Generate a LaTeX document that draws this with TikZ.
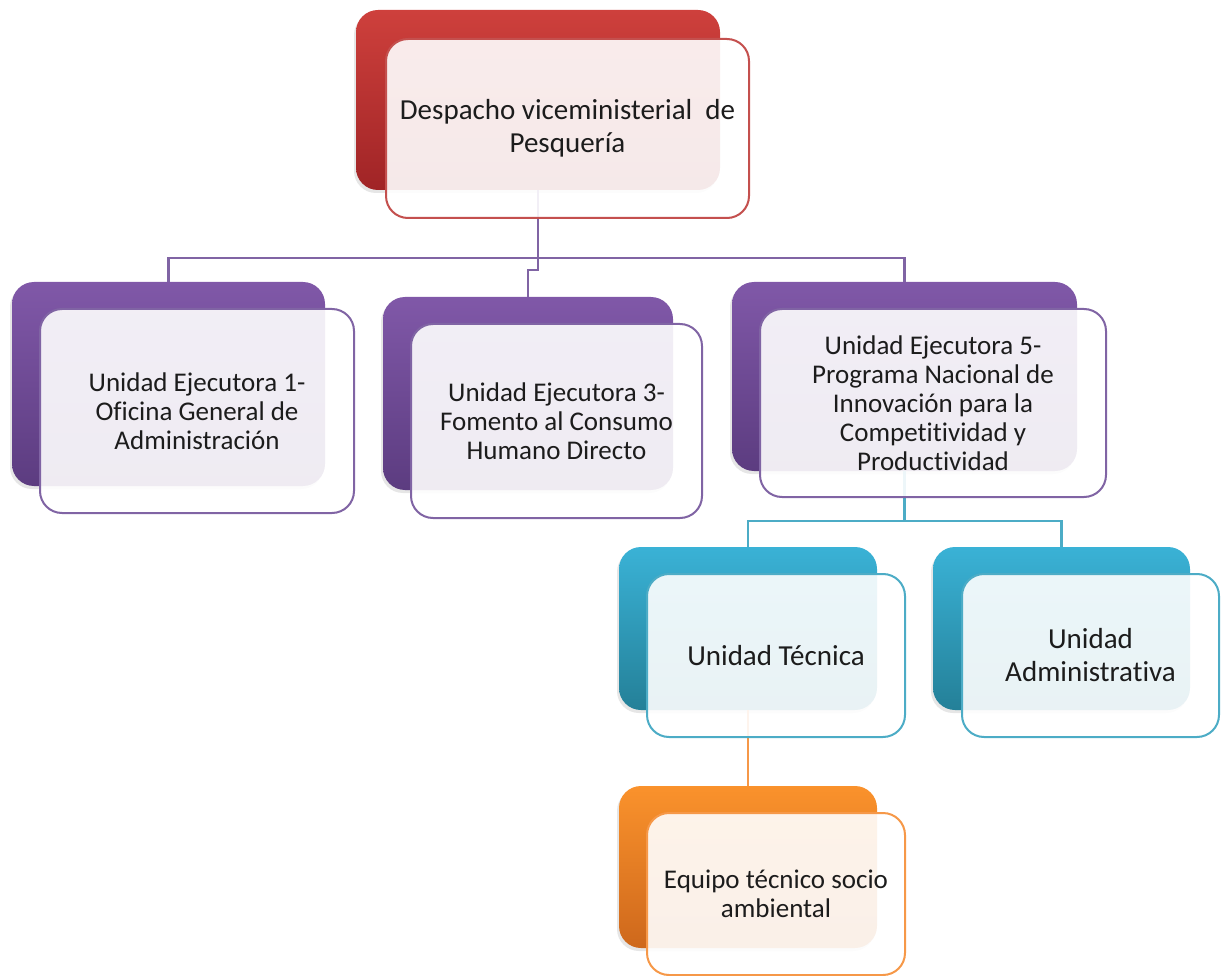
\documentclass[tikz,border=0pt]{standalone}
\usepackage{fontspec}
\setmainfont{Carlito}[Ligatures={NoCommon}]
\usetikzlibrary{shadows}

\definecolor{despred}{RGB}{206,64,60}
\definecolor{despreddk}{RGB}{160,36,38}
\definecolor{despline}{RGB}{196,80,78}
\definecolor{uepurple}{RGB}{128,88,168}
\definecolor{uepurpledk}{RGB}{92,60,128}
\definecolor{ueline}{RGB}{128,100,164}
\definecolor{ucyan}{RGB}{58,178,214}
\definecolor{ucyandk}{RGB}{36,128,152}
\definecolor{uline}{RGB}{76,172,198}
\definecolor{eqorange}{RGB}{250,146,44}
\definecolor{eqorangedk}{RGB}{206,104,28}
\definecolor{eqline}{RGB}{246,152,72}
\definecolor{txt}{RGB}{28,28,28}

\tikzset{
  backbox/.style={rounded corners=22pt, inner sep=0pt,
    drop shadow={shadow xshift=-2pt, shadow yshift=-3pt, opacity=0.2}},
  frontbox/.style={rounded corners=22pt, inner sep=0pt, line width=2pt,
    fill=white, fill opacity=0.9, text opacity=1, text=txt, align=center},
  redback/.style={backbox, top color=despred, bottom color=despreddk},
  purpleback/.style={backbox, top color=uepurple, bottom color=uepurpledk},
  cyanback/.style={backbox, top color=ucyan, bottom color=ucyandk},
  orangeback/.style={backbox, top color=eqorange, bottom color=eqorangedk},
  conn/.style={line width=2.2pt},
  bigtext/.style={font=\fontsize{29}{33}\selectfont},
  smalltext/.style={font=\fontsize{27}{29}\selectfont}
}

\begin{document}
\begin{tikzpicture}[x=1pt,y=1pt]
        \useasboundingbox (0,0) rectangle (1224,-976);

        % back boxes
        \node [redback, minimum width=364pt, minimum height=180pt] (despB) at (538,-100) {};
        \node [purpleback, minimum width=313pt, minimum height=204pt] (ue1B) at (168.5,-384) {};
        \node [purpleback, minimum width=290pt, minimum height=193pt] (ue3B) at (528,-393.5) {};
        \node [purpleback, minimum width=345pt, minimum height=189pt] (ue5B) at (904.5,-376.5) {};
        \node [cyanback, minimum width=258pt, minimum height=163pt] (utB) at (748,-628.5) {};
        \node [cyanback, minimum width=257pt, minimum height=163pt] (uaB) at (1061.5,-628.5) {};
        \node [orangeback, minimum width=258pt, minimum height=162pt] (eqB) at (748,-867) {};

        % connectors
        \draw [conn, ueline] (despB.south) -- ++(0,-68) -| (ue1B.north);
        \draw [conn, ueline] (despB.south) -- ++(0,-68) -| (ue5B.north);
        \draw [conn, ueline] (despB.south) -- ++(0,-80) -| (ue3B.north);
        \draw [conn, uline] (ue5B.south) -- ++(0,-50) -| (utB.north);
        \draw [conn, uline] (ue5B.south) -- ++(0,-50) -| (uaB.north);
        \draw [conn, eqline] (utB.south) -- (eqB.north);

        % front boxes
        \node [frontbox, draw=despline, bigtext, minimum width=363pt, minimum height=179pt] (desp) at (567.5,-128.5)
          {Despacho viceministerial \ de\\Pesquería};
        \node [frontbox, draw=ueline, smalltext, minimum width=314pt, minimum height=204pt] (ue1) at (197,-411)
          {Unidad Ejecutora 1-\\Oficina General de\\Administración};
        \node [frontbox, draw=ueline, smalltext, minimum width=291pt, minimum height=194pt] (ue3) at (556.5,-421)
          {Unidad Ejecutora 3-\\Fomento al Consumo\\Humano Directo};
        \node [frontbox, draw=ueline, smalltext, minimum width=346pt, minimum height=188pt] (ue5) at (933,-403)
          {Unidad Ejecutora 5-\\Programa Nacional de\\Innovación para la\\Competitividad y\\Productividad};
        \node [frontbox, draw=uline, bigtext, minimum width=258pt, minimum height=163pt] (ut) at (776,-655.5)
          {Unidad Técnica};
        \node [frontbox, draw=uline, bigtext, minimum width=257pt, minimum height=163pt] (ua) at (1090.5,-655.5)
          {Unidad\\Administrativa};
        \node [frontbox, draw=eqline, smalltext, minimum width=258pt, minimum height=162pt] (eq) at (776,-894)
          {Equipo técnico socio\\ambiental};

\end{tikzpicture}
\end{document}
